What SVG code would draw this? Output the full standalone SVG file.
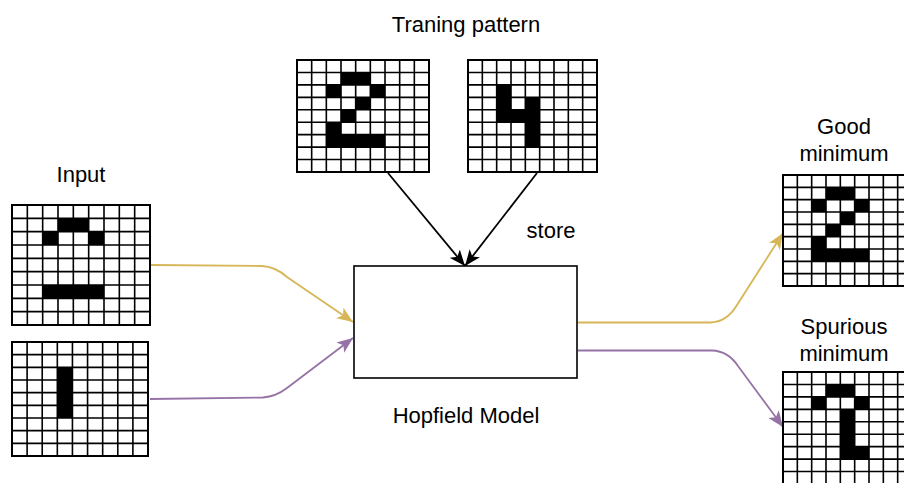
<svg xmlns="http://www.w3.org/2000/svg" width="904" height="483" viewBox="0 0 904 483">
  <style>
    .lbl { font-family: "Liberation Sans", Arial, sans-serif; font-size: 22px; fill: #000; text-anchor: middle; }
    .bg { fill: #fff; }
    .on { fill: #000; }
    .lines { fill: none; stroke: #000; stroke-width: 1.6; }
    .frame { fill: none; stroke: #000; stroke-width: 2; }
    .box { fill: #fff; stroke: #000; stroke-width: 1.6; }
    .edge { fill: none; stroke-width: 1.8; }
    .yel { stroke: #d6b656; }
    .pur { stroke: #9673a6; }
    .blk { stroke: #000; }
  </style>
  <defs>
    <marker id="arrYel" markerUnits="userSpaceOnUse" markerWidth="17" markerHeight="14" viewBox="0 0 17 14" refX="16" refY="7" orient="auto">
      <path d="M0,0.5 L16,7 L0,13.5 L4,7 Z" fill="#d6b656"/>
    </marker>
    <marker id="arrPur" markerUnits="userSpaceOnUse" markerWidth="17" markerHeight="14" viewBox="0 0 17 14" refX="16" refY="7" orient="auto">
      <path d="M0,0.5 L16,7 L0,13.5 L4,7 Z" fill="#9673a6"/>
    </marker>
    <marker id="arrBlk" markerUnits="userSpaceOnUse" markerWidth="17" markerHeight="14" viewBox="0 0 17 14" refX="16" refY="7" orient="auto">
      <path d="M0,0.5 L16,7 L0,13.5 L4,7 Z" fill="#000"/>
    </marker>
  </defs>

  <rect width="904" height="483" fill="#fff"/>

  <!-- titles -->
  <text class="lbl" x="466" y="32">Traning pattern</text>
  <text class="lbl" x="81" y="182">Input</text>
  <text class="lbl" x="551" y="238">store</text>
  <text class="lbl" x="466" y="423">Hopfield Model</text>
  <text class="lbl" x="844" y="134">Good</text>
  <text class="lbl" x="844" y="161">minimum</text>
  <text class="lbl" x="844" y="334">Spurious</text>
  <text class="lbl" x="844" y="361">minimum</text>

  <!-- connectors -->
  <g id="connectors">
    <path class="edge blk" d="M388,173 L465,266" marker-end="url(#arrBlk)"/>
    <path class="edge blk" d="M537,173 L465,266" marker-end="url(#arrBlk)"/>
    <path class="edge yel" d="M151,265 L262,266 Q275,266.5 287,277 L353,322" marker-end="url(#arrYel)"/>
    <path class="edge pur" d="M150,399 L263,397.5 Q276,396.5 287,388 L353,338" marker-end="url(#arrPur)"/>
    <path class="edge yel" d="M578,322.5 L710,322.5 Q727,322 737,305 L783,233" marker-end="url(#arrYel)"/>
    <path class="edge pur" d="M578,350.5 L712,350.5 Q728,351 738,366 L783,427" marker-end="url(#arrPur)"/>
  </g>

  <!-- Hopfield model block -->
  <g id="hopfield">
    <rect class="box" x="354" y="266" width="223" height="112"/>
  </g>

  <!-- training pattern "2" -->
  <g id="train2">
    <rect class="bg" x="297" y="60" width="132" height="112"/>
    <rect class="on" x="341" y="72.44" width="29.33" height="12.45"/>
    <rect class="on" x="326.33" y="84.89" width="14.67" height="12.44"/>
    <rect class="on" x="370.33" y="84.89" width="14.67" height="12.44"/>
    <rect class="on" x="355.67" y="97.33" width="14.66" height="12.45"/>
    <rect class="on" x="341" y="109.78" width="14.67" height="12.44"/>
    <rect class="on" x="326.33" y="122.22" width="14.67" height="12.45"/>
    <rect class="on" x="326.33" y="134.67" width="58.67" height="12.44"/>
    <path class="lines" d="M297,72.44H429M297,84.89H429M297,97.33H429M297,109.78H429M297,122.22H429M297,134.67H429M297,147.11H429M297,159.56H429
      M311.67,60V172M326.33,60V172M341,60V172M355.67,60V172M370.33,60V172M385,60V172M399.67,60V172M414.33,60V172"/>
    <rect class="frame" x="297" y="60" width="132" height="112"/>
  </g>

  <!-- training pattern "4" -->
  <g id="train4">
    <rect class="bg" x="468" y="60" width="129" height="112"/>
    <rect class="on" x="496.67" y="84.89" width="14.33" height="37.33"/>
    <rect class="on" x="511" y="109.78" width="14.33" height="12.44"/>
    <rect class="on" x="525.33" y="97.33" width="14.34" height="49.78"/>
    <path class="lines" d="M468,72.44H597M468,84.89H597M468,97.33H597M468,109.78H597M468,122.22H597M468,134.67H597M468,147.11H597M468,159.56H597
      M482.33,60V172M496.67,60V172M511,60V172M525.33,60V172M539.67,60V172M554,60V172M568.33,60V172M582.67,60V172"/>
    <rect class="frame" x="468" y="60" width="129" height="112"/>
  </g>

  <!-- input pattern A -->
  <g id="input1">
    <rect class="bg" x="12" y="205" width="138" height="120"/>
    <rect class="on" x="58" y="218.33" width="30.67" height="13.34"/>
    <rect class="on" x="42.67" y="231.67" width="15.33" height="13.33"/>
    <rect class="on" x="88.67" y="231.67" width="15.33" height="13.33"/>
    <rect class="on" x="42.67" y="285" width="61.33" height="13.33"/>
    <path class="lines" d="M12,218.33H150M12,231.67H150M12,245H150M12,258.33H150M12,271.67H150M12,285H150M12,298.33H150M12,311.67H150
      M27.33,205V325M42.67,205V325M58,205V325M73.33,205V325M88.67,205V325M104,205V325M119.33,205V325M134.67,205V325"/>
    <rect class="frame" x="12" y="205" width="138" height="120"/>
  </g>

  <!-- input pattern B -->
  <g id="input2">
    <rect class="bg" x="12" y="342" width="136" height="114"/>
    <rect class="on" x="57.33" y="367.33" width="15.11" height="50.67"/>
    <path class="lines" d="M12,354.67H148M12,367.33H148M12,380H148M12,392.67H148M12,405.33H148M12,418H148M12,430.67H148M12,443.33H148
      M27.11,342V456M42.22,342V456M57.33,342V456M72.44,342V456M87.56,342V456M102.67,342V456M117.78,342V456M132.89,342V456"/>
    <rect class="frame" x="12" y="342" width="136" height="114"/>
  </g>

  <!-- good minimum -->
  <g id="goodMin">
    <rect class="bg" x="783" y="175" width="129" height="111"/>
    <rect class="on" x="826" y="187.33" width="28.67" height="12.34"/>
    <rect class="on" x="811.67" y="199.67" width="14.33" height="12.33"/>
    <rect class="on" x="854.67" y="199.67" width="14.33" height="12.33"/>
    <rect class="on" x="840.33" y="212" width="14.34" height="12.33"/>
    <rect class="on" x="826" y="224.33" width="14.33" height="12.34"/>
    <rect class="on" x="811.67" y="236.67" width="14.33" height="12.33"/>
    <rect class="on" x="811.67" y="249" width="57.33" height="12.33"/>
    <path class="lines" d="M783,187.33H912M783,199.67H912M783,212H912M783,224.33H912M783,236.67H912M783,249H912M783,261.33H912M783,273.67H912
      M797.33,175V286M811.67,175V286M826,175V286M840.33,175V286M854.67,175V286M869,175V286M883.33,175V286M897.67,175V286"/>
    <rect class="frame" x="783" y="175" width="129" height="111"/>
  </g>

  <!-- spurious minimum -->
  <g id="spuriousMin">
    <rect class="bg" x="783" y="372" width="129" height="112"/>
    <rect class="on" x="826" y="384.44" width="28.67" height="12.45"/>
    <rect class="on" x="811.67" y="396.89" width="14.33" height="12.44"/>
    <rect class="on" x="854.67" y="396.89" width="14.33" height="12.44"/>
    <rect class="on" x="840.33" y="409.33" width="14.34" height="49.78"/>
    <rect class="on" x="854.67" y="446.67" width="14.33" height="12.44"/>
    <path class="lines" d="M783,384.44H912M783,396.89H912M783,409.33H912M783,421.78H912M783,434.22H912M783,446.67H912M783,459.11H912M783,471.56H912
      M797.33,372V484M811.67,372V484M826,372V484M840.33,372V484M854.67,372V484M869,372V484M883.33,372V484M897.67,372V484"/>
    <rect class="frame" x="783" y="372" width="129" height="112"/>
  </g>
</svg>
